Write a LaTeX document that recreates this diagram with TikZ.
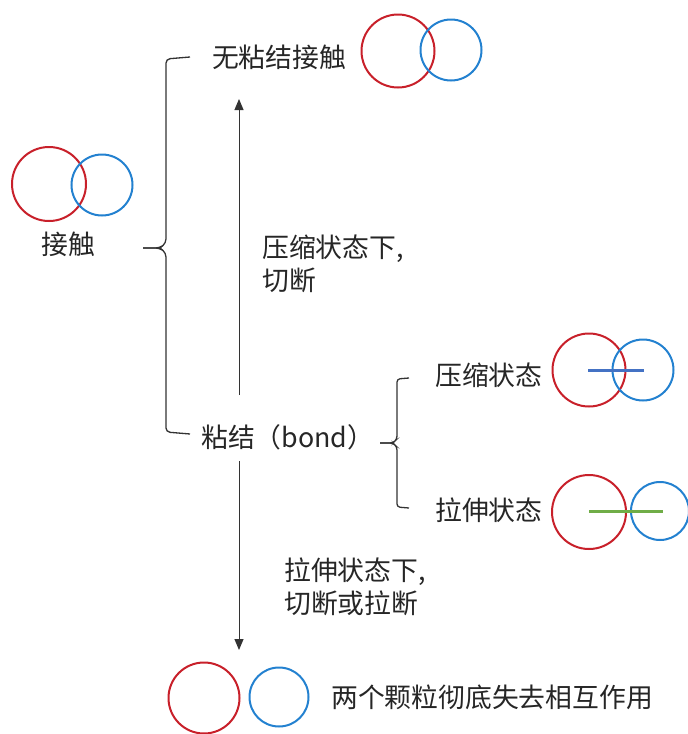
\documentclass[tikz,border=0pt]{standalone}
\usepackage{fontspec}
\setmainfont{Noto Sans CJK SC}
\usetikzlibrary{arrows.meta}
\definecolor{pred}{RGB}{200,32,42}
\definecolor{pblue}{RGB}{35,129,208}
\definecolor{lblue}{RGB}{68,114,196}
\definecolor{lgreen}{RGB}{112,173,71}
\tikzset{
  lbl/.style={inner sep=0pt, font=\fontsize{26.8}{33}\selectfont, text=black!85},
  rc/.style={draw=pred, line width=2pt},
  bc/.style={draw=pblue, line width=2pt},
  brace/.style={draw=black!80, line width=1.3pt, rounded corners=4pt},
  arr/.style={draw=black!80, line width=1pt, -{Triangle[length=11pt,width=9pt]}},
}
\begin{document}
\begin{tikzpicture}[x=1pt,y=-1pt]
\useasboundingbox (0,0) rectangle (688,734);
% top
\node[lbl] (nobond) at (279,57) {无粘结接触};
\draw[rc] (398,51) circle (36.5);
\draw[bc] (451,50) circle (30.5);
% left
\draw[rc] (49,184) circle (37);
\draw[bc] (102,185) circle (30.5);
\node[lbl] (contact) at (68,244) {接触};
% big brace
\coordinate (bt) at (190,57);
\coordinate (bm) at (143,248);
\coordinate (bb) at (190,434);
\draw[brace] (bt) -- (166,59) -- (166,243) -- (160,248) -- (bm);
\draw[brace] (bm) -- (160,248) -- (166,253) -- (166,432) -- (bb);
% bond
\node[lbl, anchor=west] (bond) at (201,437) {粘结（bond）};
\coordinate (upS) at (239,395);
\coordinate (upE) at (239,99);
\draw[arr] (upS) -- (upE);
\node[lbl, anchor=west, align=left] (cut1) at (262,264) {压缩状态下,\\切断};
\coordinate (dnS) at (239,461);
\coordinate (dnE) at (239,650);
\draw[arr] (dnS) -- (dnE);
\node[lbl, anchor=west, align=left] (cut2) at (284,587) {拉伸状态下,\\切断或拉断};
% right brace
\coordinate (rt) at (409,378);
\coordinate (rm) at (380,443);
\coordinate (rb) at (409,508);
\draw[brace, rounded corners=3pt] (rt) -- (397,379) -- (397,439) -- (393,443) -- (rm);
\draw[brace, rounded corners=3pt] (rm) -- (393,443) -- (397,447) -- (397,507) -- (rb);
\node[lbl, anchor=west] (comp) at (435,375) {压缩状态};
\draw[rc] (589,370) circle (36.5);
\draw[bc] (643,370) circle (30.5);
\draw[draw=lblue, line width=3pt] (588,370) -- (644,370);
\node[lbl, anchor=west] (tens) at (435,510) {拉伸状态};
\draw[rc] (589,512) circle (37);
\draw[bc] (660,511) circle (29);
\draw[draw=lgreen, line width=3pt] (589,511) -- (663,511);
% bottom
\draw[rc] (204,698) circle (35.5);
\draw[bc] (279,697) circle (29.5);
\node[lbl, anchor=west] (lost) at (331,697) {两个颗粒彻底失去相互作用};
\end{tikzpicture}
\end{document}
